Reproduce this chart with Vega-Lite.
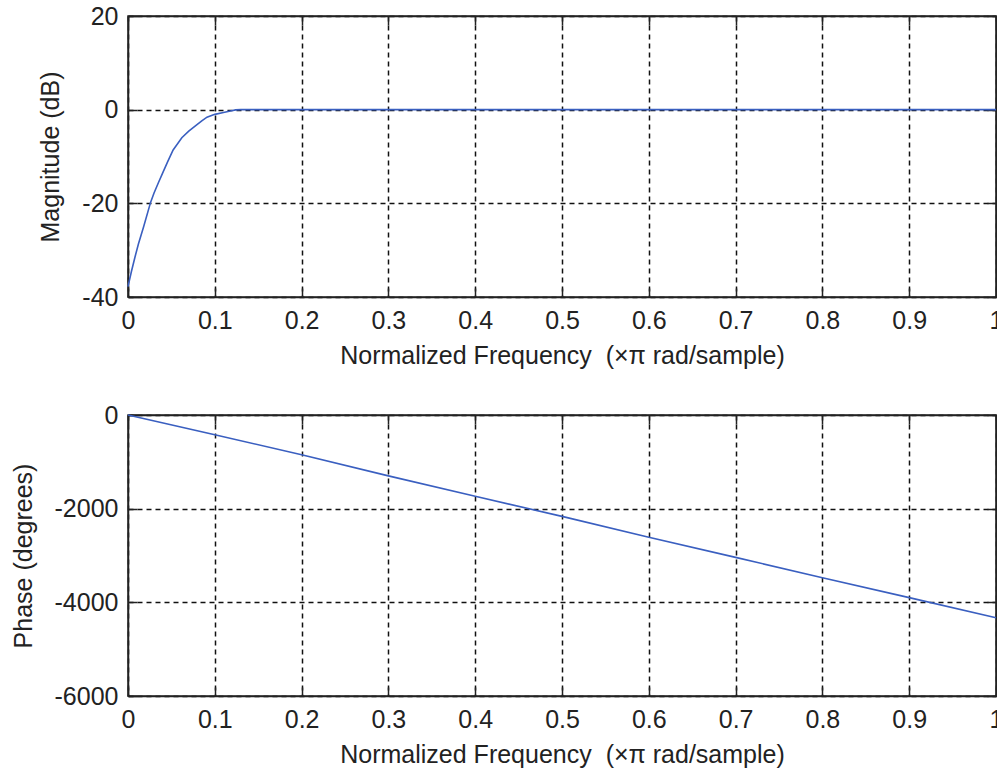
{
  "$schema": "https://vega.github.io/schema/vega-lite/v6.json",
  "background": "white",
  "autosize": {"type": "pad"},
  "padding": {"left": 10, "top": 3, "right": 0, "bottom": 0},
  "spacing": 33,
  "datasets": {
    "mag": [
      {"freq": 0.0, "db": -37.8},
      {"freq": 0.004, "db": -34.5},
      {"freq": 0.008, "db": -31.5},
      {"freq": 0.012, "db": -28.7},
      {"freq": 0.018, "db": -25.0},
      {"freq": 0.026, "db": -19.8},
      {"freq": 0.03, "db": -17.8},
      {"freq": 0.035, "db": -15.6},
      {"freq": 0.04, "db": -13.5},
      {"freq": 0.046, "db": -11.0},
      {"freq": 0.052, "db": -8.6},
      {"freq": 0.062, "db": -6.0},
      {"freq": 0.07, "db": -4.6},
      {"freq": 0.078, "db": -3.4},
      {"freq": 0.085, "db": -2.4},
      {"freq": 0.091, "db": -1.6},
      {"freq": 0.1, "db": -1.0},
      {"freq": 0.11, "db": -0.6},
      {"freq": 0.118, "db": -0.3},
      {"freq": 0.124, "db": -0.05},
      {"freq": 0.13, "db": 0.0},
      {"freq": 0.5, "db": 0.0},
      {"freq": 1.0, "db": 0.0}
    ],
    "phase": [
      {"freq": 0.0, "deg": 0},
      {"freq": 0.1, "deg": -420},
      {"freq": 0.2, "deg": -850},
      {"freq": 0.3, "deg": -1300},
      {"freq": 0.4, "deg": -1735},
      {"freq": 0.5, "deg": -2165},
      {"freq": 0.6, "deg": -2610},
      {"freq": 0.7, "deg": -3040},
      {"freq": 0.8, "deg": -3475},
      {"freq": 0.9, "deg": -3900},
      {"freq": 1.0, "deg": -4330}
    ]
  },
  "vconcat": [
    {
      "width": 868,
      "height": 281,
      "data": {"name": "mag"},
      "layer": [
        {
          "mark": {"type": "line", "color": "#3a5fc0", "strokeWidth": 1.6},
          "encoding": {
            "x": {"field": "freq", "type": "quantitative", "scale": {"domain": [0, 1], "nice": false},
              "axis": {"orient": "bottom", "values": [0, 0.1, 0.2, 0.3, 0.4, 0.5, 0.6, 0.7, 0.8, 0.9, 1], "format": ".1~f", "grid": true, "title": "Normalized Frequency \u00a0(×π rad/sample)"}},
            "y": {"field": "db", "type": "quantitative", "scale": {"domain": [-40, 20], "nice": false, "zero": false},
              "axis": {"orient": "left", "values": [-40, -20, 0, 20], "labelExpr": "'' + datum.value", "grid": true, "title": "Magnitude (dB)"}}
          }
        },
        {
          "mark": {"type": "line", "opacity": 0},
          "encoding": {
            "x": {"field": "freq", "type": "quantitative",
              "axis": {"orient": "top", "values": [0, 0.1, 0.2, 0.3, 0.4, 0.5, 0.6, 0.7, 0.8, 0.9, 1], "labels": false, "grid": false, "title": null}},
            "y": {"field": "db", "type": "quantitative",
              "axis": {"orient": "right", "values": [-40, -20, 0, 20], "labels": false, "grid": false, "title": null}}
          }
        }
      ],
      "resolve": {"axis": {"x": "independent", "y": "independent"}}
    },
    {
      "width": 868,
      "height": 281,
      "data": {"name": "phase"},
      "layer": [
        {
          "mark": {"type": "line", "color": "#3a5fc0", "strokeWidth": 1.6},
          "encoding": {
            "x": {"field": "freq", "type": "quantitative", "scale": {"domain": [0, 1], "nice": false},
              "axis": {"orient": "bottom", "values": [0, 0.1, 0.2, 0.3, 0.4, 0.5, 0.6, 0.7, 0.8, 0.9, 1], "format": ".1~f", "grid": true, "title": "Normalized Frequency \u00a0(×π rad/sample)"}},
            "y": {"field": "deg", "type": "quantitative", "scale": {"domain": [-6000, 0], "nice": false, "zero": false},
              "axis": {"orient": "left", "values": [-6000, -4000, -2000, 0], "labelExpr": "'' + datum.value", "grid": true, "title": "Phase (degrees)"}}
          }
        },
        {
          "mark": {"type": "line", "opacity": 0},
          "encoding": {
            "x": {"field": "freq", "type": "quantitative",
              "axis": {"orient": "top", "values": [0, 0.1, 0.2, 0.3, 0.4, 0.5, 0.6, 0.7, 0.8, 0.9, 1], "labels": false, "grid": false, "title": null}},
            "y": {"field": "deg", "type": "quantitative",
              "axis": {"orient": "right", "values": [-6000, -4000, -2000, 0], "labels": false, "grid": false, "title": null}}
          }
        }
      ],
      "resolve": {"axis": {"x": "independent", "y": "independent"}}
    }
  ],
  "config": {
    "view": {"stroke": "#222", "strokeWidth": 1.5},
    "axis": {
      "labelFont": "Liberation Sans", "labelFontSize": 25, "labelColor": "#222",
      "titleFont": "Liberation Sans", "titleFontSize": 25, "titleFontWeight": "normal", "titleColor": "#222",
      "domainColor": "#222", "domainWidth": 1.5,
      "tickColor": "#222", "tickWidth": 1.5, "tickSize": -9,
      "gridColor": "#111", "gridDash": [5, 4], "gridWidth": 1.5, "gridOpacity": 1,
      "labelFlush": false, "labelOverlap": false, "labelBound": false
    },
    "axisX": {"labelPadding": 20, "titlePadding": 10},
    "axisY": {"labelPadding": 19, "titlePadding": 18}
  }
}
